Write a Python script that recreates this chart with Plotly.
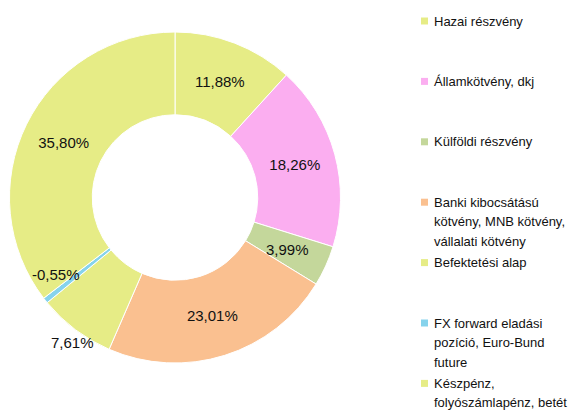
import plotly.graph_objects as go
import math

categories = [
    "Hazai részvény",
    "Államkötvény, dkj",
    "Külföldi részvény",
    "Banki kibocsátású kötvény, MNB kötvény, vállalati kötvény",
    "Befektetési alap",
    "FX forward eladási pozíció, Euro-Bund future",
    "Készpénz, folyószámlapénz, betét",
]
legend_lines = [
    ["Hazai részvény"],
    ["Államkötvény, dkj"],
    ["Külföldi részvény"],
    ["Banki kibocsátású", "kötvény, MNB kötvény,", "vállalati kötvény"],
    ["Befektetési alap"],
    ["FX forward eladási", "pozíció, Euro-Bund", "future"],
    ["Készpénz,", "folyószámlapénz, betét"],
]
values = [11.88, 18.26, 3.99, 23.01, 7.61, -0.55, 35.80]
colors = ["#e6ec86", "#fbaef0", "#c4d79b", "#fac090", "#e6ec86", "#86d3ec", "#e6ec86"]

OFF = 8  # page body margin
W, H = 582 - OFF, 410 - OFF
FONT = "Liberation Sans, Arial, sans-serif"


def px_x(x):
    return (x - OFF) / W


def px_y(y):
    return 1 - (y - OFF) / H


labels_txt = [f"{v:.2f}".replace(".", ",") + "%" for v in values]
abs_vals = [abs(v) for v in values]
textpos = ["inside", "inside", "none", "inside", "none", "none", "inside"]

dom_x = [px_x(9), px_x(341)]
dom_y = [px_y(363), px_y(32)]

fig = go.Figure(go.Pie(
    labels=categories,
    values=abs_vals,
    text=labels_txt,
    textinfo="text",
    textposition=textpos,
    insidetextorientation="horizontal",
    sort=False,
    direction="clockwise",
    rotation=0,
    hole=0.5,
    marker=dict(colors=colors, line=dict(color="white", width=1)),
    textfont=dict(family=FONT, size=15, color="#111111"),
    domain=dict(x=dom_x, y=dom_y),
    showlegend=False,
    hoverinfo="label+text",
))

# labels for the small slices, placed from the data
cx = (9 + 341) / 2
cy = (32 + 363) / 2
R = (363 - 32) / 2
total = sum(abs_vals)
annotations = []
cum = 0
special = {2: (0.76, -2, 0), 4: (1.07, 4, -4), 5: (0.88, -5, 14)}
for i, v in enumerate(abs_vals):
    mid = (cum + v / 2) / total * 2 * math.pi
    cum += v
    if i in special:
        rf, xs, ys = special[i]
        px = cx + rf * R * math.sin(mid)
        py = cy - rf * R * math.cos(mid)
        annotations.append(dict(
            x=px_x(px), y=px_y(py), xref="paper", yref="paper",
            text=labels_txt[i], showarrow=False, xshift=xs, yshift=ys,
            font=dict(family=FONT, size=15, color="#111111"),
            xanchor="center", yanchor="middle"))

# legend
shapes = []
slot0, slot_gap, line_gap = 21, 60.4, 19.5
for i, lines in enumerate(legend_lines):
    y0 = slot0 + slot_gap * i
    shapes.append(dict(type="rect", xref="paper", yref="paper",
                       x0=px_x(421), x1=px_x(428),
                       y0=px_y(y0 - 3.5), y1=px_y(y0 + 3.5),
                       fillcolor=colors[i], line=dict(width=0)))
    for j, ln in enumerate(lines):
        annotations.append(dict(
            x=px_x(432), y=px_y(y0 + j * line_gap), xref="paper", yref="paper",
            text=ln, showarrow=False, xanchor="left", yanchor="middle",
            font=dict(family=FONT, size=13, color="#111111")))

fig.update_layout(
    width=W, height=H,
    margin=dict(l=0, r=0, t=0, b=0),
    paper_bgcolor="white", plot_bgcolor="white",
    annotations=annotations, shapes=shapes,
)
fig.write_html("out.html")
